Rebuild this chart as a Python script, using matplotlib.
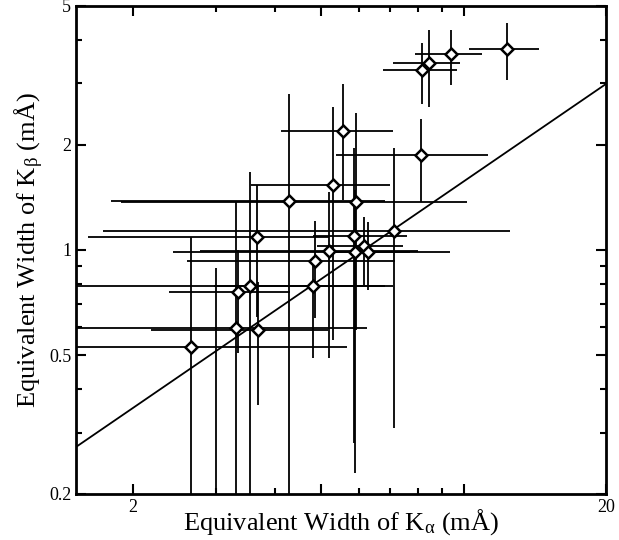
import matplotlib
matplotlib.use("Agg")
import matplotlib.pyplot as plt
import numpy as np

# K-alpha vs K-beta equivalent widths (mA)
ew_ka = [12.33, 9.39, 8.45, 8.18, 5.55, 8.12, 5.29, 4.27, 5.91, 3.65, 5.87, 7.12,
         6.15, 6.27, 5.19, 5.89, 4.86, 4.81, 3.54, 3.33, 3.30, 3.68, 2.65]
ew_kb = [3.77, 3.64, 3.43, 3.27, 2.19, 1.875, 1.535, 1.384, 1.375, 1.087, 1.096, 1.135,
         1.026, 0.988, 0.995, 0.986, 0.93, 0.788, 0.788, 0.756, 0.599, 0.589, 0.528]
# error bar limits (absolute values)
ka_lo = [10.25, 7.88, 7.10, 6.74, 4.11, 5.37, 3.56, 1.80, 1.89, 1.61, 4.80, 1.73,
         4.89, 5.21, 2.77, 2.43, 2.60, 2.96, 1.40, 2.38, 1.40, 2.18, 1.40]
ka_hi = [14.41, 10.92, 9.81, 9.67, 7.08, 11.24, 6.98, 6.83, 10.15, 5.20, 7.58, 12.52,
         7.43, 7.69, 8.00, 9.35, 7.15, 6.81, 7.10, 4.29, 6.24, 5.16, 5.66]
kb_lo = [3.07, 2.97, 2.57, 2.62, 1.39, 1.372, 0.552, 0.15, 0.59, 0.642, 0.28, 0.309,
         0.794, 0.768, 0.49, 0.23, 0.638, 0.49, 0.15, 0.507, 0.15, 0.36, 0.15]
kb_hi = [4.48, 4.27, 4.27, 3.92, 2.99, 2.37, 2.57, 2.80, 2.47, 1.535, 1.96, 1.96,
         1.243, 1.203, 1.466, 1.485, 1.21, 0.924, 1.67, 1.0, 1.372, 0.81, 1.089]

# lone vertical bar with no visible marker
lone_x = [2.99]
lone_lo = [0.15]
lone_hi = [0.888]

# power-law fit line  y = norm * x**slope
fit_norm = 0.1855
fit_slope = 0.928

xlim = (1.515, 20)
ylim = (0.2, 5)

plt.rcParams['font.family'] = ['Liberation Serif', 'DejaVu Serif']
plt.rcParams['mathtext.fontset'] = 'custom'
plt.rcParams['mathtext.rm'] = 'Liberation Serif'
plt.rcParams['mathtext.it'] = 'Liberation Serif:italic'
plt.rcParams['mathtext.bf'] = 'Liberation Serif:bold'

fig = plt.figure(figsize=(6.19, 5.40), dpi=100)
ax = fig.add_axes([76 / 619, 1 - 494 / 540, 530 / 619, 488 / 540])

x = np.array(ew_ka)
y = np.array(ew_kb)
xerr = [x - np.array(ka_lo), np.array(ka_hi) - x]
yerr = [y - np.array(kb_lo), np.array(kb_hi) - y]

ax.vlines(lone_x, lone_lo, lone_hi, color='black', lw=1.3)
ax.errorbar(x, y, xerr=xerr, yerr=yerr, fmt='none', ecolor='black', elinewidth=1.3,
            capsize=0)
ax.plot(x, y, 'D', ms=6.5, mfc='white', mec='black', mew=1.8, zorder=5)

xf = np.geomspace(xlim[0], xlim[1], 50)
ax.plot(xf, fit_norm * xf ** fit_slope, color='black', lw=1.3)

ax.set_xscale('log')
ax.set_yscale('log')
ax.set_xlim(*xlim)
ax.set_ylim(*ylim)

ax.set_xticks([2, 5, 10, 20], ['2', '', '', '20'])
ax.set_xticks([3, 4, 6, 7, 8, 9], minor=True)
ax.set_xticklabels([], minor=True)
ax.set_yticks([0.2, 0.5, 1, 2, 5], ['0.2', '0.5', '1', '2', '5'])
ax.set_yticks([0.3, 0.4, 0.6, 0.7, 0.8, 0.9, 3, 4], minor=True)
ax.set_yticklabels([], minor=True)

ax.tick_params(which='both', direction='in', top=True, right=True, labelsize=13,
               width=1.5)
ax.tick_params(which='major', length=7)
ax.tick_params(which='minor', length=4)
for s in ax.spines.values():
    s.set_linewidth(2)

ax.set_xlabel(r'Equivalent Width of K$_\mathrm{α}$ (mÅ)', fontsize=19, labelpad=-6)
ax.set_ylabel(r'Equivalent Width of K$_\mathrm{β}$ (mÅ)', fontsize=19, labelpad=2)

fig.savefig('out.png', dpi=100)
